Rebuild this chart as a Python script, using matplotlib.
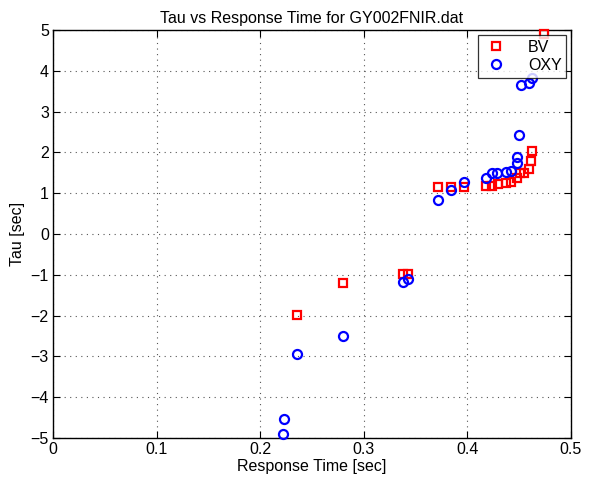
import matplotlib
matplotlib.use("Agg")
import matplotlib.pyplot as plt

# Data
bv_x = [0.236, 0.280, 0.338, 0.343, 0.372, 0.384, 0.397, 0.418, 0.424, 0.430,
        0.437, 0.442, 0.448, 0.451, 0.455, 0.459, 0.461, 0.462, 0.474]
bv_y = [-1.99, -1.19, -0.98, -0.98, 1.16, 1.16, 1.16, 1.18, 1.18, 1.22,
        1.26, 1.27, 1.37, 1.49, 1.50, 1.60, 1.78, 2.03, 4.90]

oxy_x = [0.222, 0.223, 0.236, 0.280, 0.338, 0.343, 0.372, 0.384, 0.397, 0.418,
         0.424, 0.429, 0.437, 0.442, 0.448, 0.448, 0.450, 0.452, 0.459, 0.462]
oxy_y = [-4.91, -4.53, -2.93, -2.50, -1.18, -1.10, 0.83, 1.08, 1.28, 1.38,
         1.49, 1.49, 1.52, 1.55, 1.75, 1.89, 2.42, 3.65, 3.70, 3.83]

x_ticks = [0, 0.1, 0.2, 0.3, 0.4, 0.5]
x_tick_labels = ["0", "0.1", "0.2", "0.3", "0.4", "0.5"]
y_ticks = [-5, -4, -3, -2, -1, 0, 1, 2, 3, 4, 5]
y_tick_labels = ["\u22125", "\u22124", "\u22123", "\u22122", "\u22121", "0", "1", "2", "3", "4", "5"]

plt.rcParams['font.family'] = ['Liberation Sans', 'DejaVu Sans']

fig = plt.figure(figsize=(6.0, 4.79), dpi=100)
ax = fig.add_axes([53/600, 1-438/479, (571-53)/600, (438-30)/479])

ax.plot(bv_x, bv_y, linestyle='none', marker='s', markersize=6,
        markerfacecolor='none', markeredgecolor='red', markeredgewidth=1.6,
        label='BV', clip_on=False, zorder=3)
ax.plot(oxy_x, oxy_y, linestyle='none', marker='o', markersize=6.5,
        markerfacecolor='none', markeredgecolor='blue', markeredgewidth=1.6,
        label='OXY', clip_on=False, zorder=3)

ax.set_xlim(0, 0.5)
ax.set_ylim(-5, 5)
ax.set_xticks(x_ticks)
ax.set_xticklabels(x_tick_labels)
ax.set_yticks(y_ticks)
ax.set_yticklabels(y_tick_labels)
ax.tick_params(direction='in', length=5, width=0.8, labelsize=11.5,
               top=True, right=True, pad=3)
ax.grid(True, linestyle=(0, (1, 4)), color='#555555', linewidth=0.8)
for s in ax.spines.values():
    s.set_linewidth(1.0)

ax.set_title('Tau vs Response Time for GY002FNIR.dat', fontsize=11.5, pad=5)
ax.set_xlabel('Response Time [sec]', fontsize=11.5, labelpad=1)
ax.set_ylabel('Tau [sec]', fontsize=11.5, labelpad=4)

leg = ax.legend(loc='upper right', bbox_to_anchor=(0.991, 0.988), fontsize=11.5,
                frameon=True, fancybox=False, edgecolor='black',
                handlelength=1.6, handletextpad=1.2, borderpad=0.3,
                labelspacing=0.2, borderaxespad=0)
leg.get_frame().set_linewidth(0.9)
leg.set_zorder(5)

fig.savefig('out.png', dpi=100)
